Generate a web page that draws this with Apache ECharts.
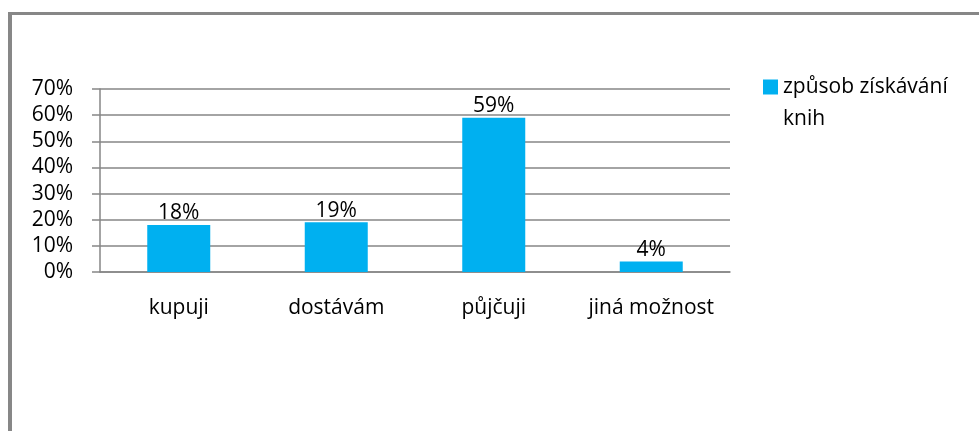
<!DOCTYPE html>
<html>
<head>
<meta charset="utf-8">
<script src="https://cdn.jsdelivr.net/npm/echarts@6/dist/echarts.min.js"></script>
<style>
  html, body { margin: 0; padding: 0; background: #fff; }
  #frame { position: absolute; left: 8px; top: 12px; width: 971px; height: 419px;
           border-top: 3px solid #878787; border-left: 4px solid #878787; }
  #chart { position: absolute; left: 0; top: 0; width: 979px; height: 431px; }
</style>
</head>
<body>
<div id="frame"></div>
<div id="chart"></div>
<script>
(() => {
    const SERIES_NAME = "způsob získávání knih";
    const categories = ["kupuji", "dostávám", "půjčuji", "jiná možnost"];
    const shares = [0.18, 0.19, 0.59, 0.04];

    const FONT = "Open Sans";
    const FONT_SIZE = 21;
    const GRAY = "#868686";

    let myChart = echarts.init(document.getElementById("chart"));
    let option = {
        animation: false,
        textStyle: { fontFamily: FONT },
        grid: { left: 100, right: 249, top: 89, bottom: 159 },
        legend: {
            left: 758,
            top: 34,
            orient: "vertical",
            itemWidth: 15,
            itemHeight: 15,
            itemGap: 6,
            // empty first line keeps the marker level with the first text line
            formatter: () => "\nzpůsob získávání\nknih",
            textStyle: { fontFamily: FONT, fontSize: FONT_SIZE, color: "#000", lineHeight: 32 },
            data: [{ name: SERIES_NAME, icon: "rect" }]
        },
        xAxis: {
            type: "category",
            data: categories,
            axisLine: { lineStyle: { color: GRAY, width: 1.5 } },
            axisTick: { length: 8, lineStyle: { color: GRAY, width: 1.5 } },
            axisLabel: {
                color: "#000", fontSize: FONT_SIZE, margin: 26, fontFamily: FONT,
                interval: 0, hideOverlap: false
            }
        },
        yAxis: {
            type: "value",
            min: 0,
            max: 0.7,
            interval: 0.1,
            axisLine: { show: true, lineStyle: { color: GRAY, width: 1.5 } },
            axisTick: { show: true, length: 8, lineStyle: { color: GRAY, width: 1.5 } },
            splitLine: { lineStyle: { color: GRAY, width: 1.5 } },
            axisLabel: {
                color: "#000", fontSize: FONT_SIZE, margin: 27, fontFamily: FONT,
                formatter: v => Math.round(v * 100) + "%"
            }
        },
        series: [
            {
                name: SERIES_NAME,
                type: "bar",
                data: shares,
                barWidth: "40%",
                itemStyle: { color: "#00B0F0" },
                label: {
                    show: true,
                    position: "top",
                    distance: 1,
                    color: "#000",
                    fontSize: FONT_SIZE,
                    fontFamily: FONT,
                    formatter: p => Math.round(p.value * 100) + "%"
                }
            }
        ]
    };
    myChart.setOption(option);
})();
</script>
</body>
</html>
